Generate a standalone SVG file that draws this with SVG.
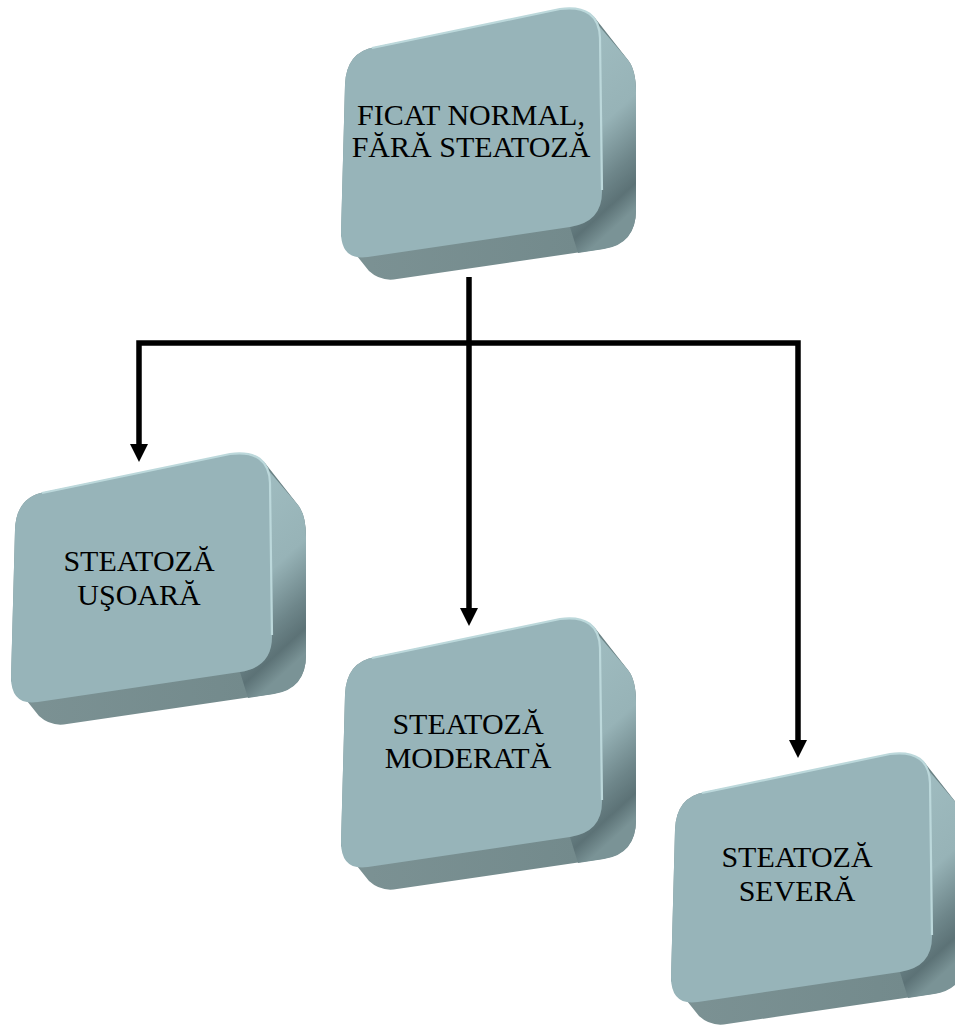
<svg xmlns="http://www.w3.org/2000/svg" xmlns:xlink="http://www.w3.org/1999/xlink" width="955" height="1031" viewBox="0 0 955 1031">
<style>
.lbl{font-family:"Liberation Serif","Times New Roman",serif;font-size:30px;fill:#000;text-anchor:middle}
.conn{fill:none;stroke:#000;stroke-width:5.5;stroke-linejoin:miter;stroke-linecap:butt}
</style>
<defs>
<linearGradient id="sideG" x1="0" y1="0" x2="0.25" y2="1">
<stop offset="0" stop-color="#A2BFC3"/>
<stop offset="0.55" stop-color="#97B3B7"/>
<stop offset="0.78" stop-color="#6E868A"/>
<stop offset="0.9" stop-color="#5C7276"/>
<stop offset="1" stop-color="#7A9396"/>
</linearGradient>
<linearGradient id="botG" x1="0" y1="0" x2="1" y2="0">
<stop offset="0" stop-color="#7C9294"/>
<stop offset="0.8" stop-color="#738A8C"/>
<stop offset="1" stop-color="#627A7D"/>
</linearGradient>
<g id="box">
<path d="M341,236 L345,85 Q346,52 375,47 L560,9 Q582,5 595,18 L628,60 Q636,70 636,92 L636,210 Q636,244 602,249 L397,279 Q381,282 369,271 Z" fill="url(#botG)"/>
<path d="M588,13 L628,60 Q636,70 636,92 L636,210 Q636,244 604,249 L578,253 L570,227 Q603,222 602,190 L600,35 Z" fill="url(#sideG)"/>
<path d="M345,85 Q346,52 375,47 L560,9 Q599,4 600,38 L602,190 Q603,222 570,227 L368,257 Q341,261 341,232 Z" fill="#97B4B9"/>
<path d="M372,48 L560,9 Q599,4 600,38 L602,190" fill="none" stroke="#BCD8DB" stroke-width="2.2"/>
</g>
<marker id="arr" markerWidth="18" markerHeight="18" refX="1" refY="9" orient="auto" markerUnits="userSpaceOnUse">
<path d="M0,0 L18,9 L0,18 Z" fill="#000"/>
</marker>
</defs>
<g id="connectors">
<path class="conn" d="M469,277 V609" marker-end="url(#arr)"/>
<path class="conn" d="M469,343 H139 V445" marker-end="url(#arr)"/>
<path class="conn" d="M469,343 H798 V741" marker-end="url(#arr)"/>
</g>
<g id="node-ficat-normal">
<use xlink:href="#box"/>
<text class="lbl" x="471" y="125">FICAT NORMAL,</text>
<text class="lbl" x="471" y="157">FĂRĂ STEATOZĂ</text>
</g>
<g id="node-steatoza-usoara">
<use xlink:href="#box" transform="translate(-330,445)"/>
<text class="lbl" x="139" y="571">STEATOZĂ</text>
<text class="lbl" x="139" y="605">UŞOARĂ</text>
</g>
<g id="node-steatoza-moderata">
<use xlink:href="#box" transform="translate(0,610)"/>
<text class="lbl" x="468" y="734">STEATOZĂ</text>
<text class="lbl" x="468" y="768">MODERATĂ</text>
</g>
<g id="node-steatoza-severa">
<use xlink:href="#box" transform="translate(330,745)"/>
<text class="lbl" x="797" y="867">STEATOZĂ</text>
<text class="lbl" x="797" y="901">SEVERĂ</text>
</g>
</svg>
